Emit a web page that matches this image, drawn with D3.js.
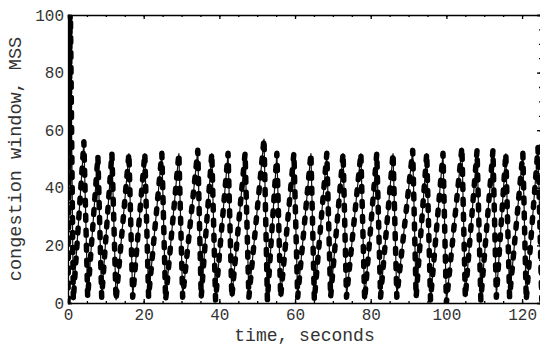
<!DOCTYPE html>
<html lang="en">
<head>
    <meta charset="UTF-8">
    <title>Congestion window</title>
    <script src="https://d3js.org/d3.v7.min.js"></script>
    <style>
        body { margin: 0; background: #fff; }
        text { font-family: "Liberation Mono", "Courier New", monospace; fill: #333; }
    </style>
</head>
<body>
    <div id="chart"></div>
    <script>
        // start-up: slow start spike then the first drop
        const startT = [0, 0.6, 1.4];
        const startV = [0, 106, 1];

        // peaks of the sawtooth (seconds, MSS)
        const peakT = [4.2, 7.9, 11.6, 16.1, 20.3, 24.8, 29.3, 34.3, 38.0, 42.3, 46.8, 51.8, 55.2, 59.7,
                       64.2, 68.4, 72.7, 77.4, 81.6, 85.9, 91.1, 94.8, 99.1, 104.1, 108.1, 112.3, 115.7, 120.2, 124.2];
        const peakV = [56, 51, 52, 52, 52, 52, 52, 53, 52, 52, 52, 57, 52, 52,
                       52, 52, 52, 52, 52, 52, 53, 52, 52, 54, 53, 53, 52, 52, 54];

        // troughs after each drop
        const troughT = [5.2, 8.9, 12.7, 17.1, 21.3, 25.8, 30.3, 35.2, 39.0, 43.3, 47.8, 52.7, 56.2, 60.7,
                         65.1, 69.4, 73.6, 78.4, 82.6, 86.9, 92.0, 95.8, 100.0, 105.0, 109.1, 113.2, 116.7, 121.1, 125.2];
        const troughV = [2, 2, 1, 2, 2, 1, 2, 2, 1, 2, 2, 1, 2, 2,
                         1, 2, 2, 1, 2, 2, 2, 1, 0, 2, 1, 2, 2, 1, 1];

        const xTicks = [0, 20, 40, 60, 80, 100, 120];
        const yTicks = [0, 20, 40, 60, 80, 100];

        const width = 540, height = 347;
        const mLeft = 68, mTop = 15, mRight = 541, mBottom = 303;

        let points = startT.map((t, i) => [t, startV[i]]);
        peakT.forEach((t, i) => {
            points.push([t, peakV[i]]);
            points.push([troughT[i], troughV[i]]);
        });

        const svg = d3.select("#chart")
            .append("svg")
            .attr("width", width)
            .attr("height", height);

        const x = d3.scaleLinear().domain([0, 125]).range([mLeft, mRight]);
        const y = d3.scaleLinear().domain([0, 100]).range([mBottom, mTop]);

        svg.append("clipPath")
            .attr("id", "plot")
            .append("rect")
            .attr("x", mLeft)
            .attr("y", mTop)
            .attr("width", mRight - mLeft)
            .attr("height", mBottom - mTop);

        const line = d3.line().x(d => x(d[0])).y(d => y(d[1]));

        const g = svg.append("g").attr("clip-path", "url(#plot)");

        g.append("path")
            .datum(points)
            .attr("fill", "none")
            .attr("stroke", "#111")
            .attr("stroke-width", 1.2)
            .attr("d", line);

        g.append("path")
            .datum(points)
            .attr("fill", "none")
            .attr("stroke", "#000")
            .attr("stroke-width", 5.5)
            .attr("stroke-linecap", "round")
            .attr("stroke-linejoin", "round")
            .attr("stroke-dasharray", "5,10")
            .attr("d", line);

        // frame with inward ticks on all sides
        const minorX = d3.range(0, 126, 5);
        const minorY = d3.range(0, 101, 5);

        function frame(axis, pos, major, minor, labels) {
            const a = svg.append("g").attr("transform", pos);
            a.call(axis.tickValues(minor).tickSize(-2).tickFormat(""));
            const b = svg.append("g").attr("transform", pos);
            b.call(axis.tickValues(major).tickSize(-4).tickPadding(labels ? 6 : 0)
                .tickFormat(labels ? d3.format("d") : ""));
            [a, b].forEach(s => {
                s.selectAll("path, line").attr("stroke", "#000").attr("stroke-width", 1.3);
                s.selectAll("text").attr("font-size", 16).attr("font-family", null).attr("fill", null);
            });
            a.select(".domain").remove();
            return b;
        }

        frame(d3.axisBottom(x), `translate(0,${mBottom})`, xTicks, minorX, true);
        frame(d3.axisTop(x), `translate(0,${mTop})`, xTicks, minorX, false);
        const ly = frame(d3.axisLeft(y), `translate(${mLeft},0)`, yTicks, minorY, true);
        ly.selectAll("text").attr("x", -4);
        frame(d3.axisRight(y), `translate(${mRight},0)`, yTicks, minorY, false);

        svg.append("text")
            .attr("x", (mLeft + mRight) / 2)
            .attr("y", 341)
            .attr("text-anchor", "middle")
            .attr("font-size", 18)
            .text("time, seconds");

        svg.append("text")
            .attr("transform", `translate(21,${(mTop + mBottom) / 2}) rotate(-90)`)
            .attr("text-anchor", "middle")
            .attr("font-size", 18.5)
            .text("congestion window, MSS");
    </script>
</body>
</html>
